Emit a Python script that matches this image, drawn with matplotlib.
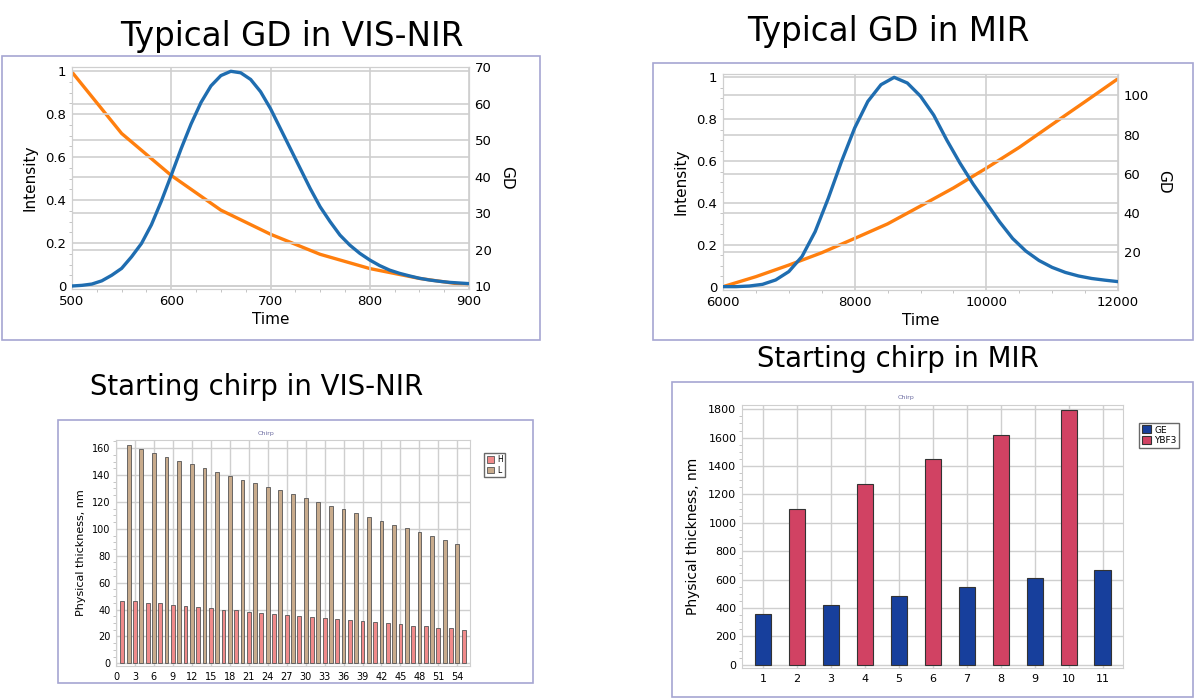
import matplotlib
matplotlib.use("Agg")
import matplotlib.pyplot as plt
import matplotlib.ticker as ticker
from matplotlib.patches import Rectangle

# ---- data ----
vis_time = [500, 510, 520, 530, 540, 550, 560, 570, 580, 590, 600, 610, 620, 630, 640,
            650, 660, 670, 680, 690, 700, 710, 720, 730, 740, 750, 760, 770, 780, 790,
            800, 810, 820, 830, 840, 850, 860, 870, 880, 890, 900]
vis_intensity = [0.0, 0.003, 0.009, 0.024, 0.05, 0.082, 0.136, 0.198, 0.285, 0.395, 0.516,
                 0.64, 0.755, 0.855, 0.932, 0.98, 1.0, 0.993, 0.962, 0.905, 0.826, 0.733,
                 0.64, 0.547, 0.454, 0.369, 0.30, 0.237, 0.19, 0.152, 0.121, 0.095, 0.074,
                 0.059, 0.047, 0.036, 0.028, 0.022, 0.017, 0.014, 0.011]
vis_gd_time = [500, 550, 600, 650, 700, 750, 800, 850, 900]
vis_gd = [68.6, 51.8, 40.3, 30.8, 24.2, 18.7, 14.8, 12.1, 10.2]

mir_time = [6000, 6200, 6400, 6600, 6800, 7000, 7200, 7400, 7600, 7800, 8000, 8200, 8400,
            8600, 8800, 9000, 9200, 9400, 9600, 9800, 10000, 10200, 10400, 10600, 10800,
            11000, 11200, 11400, 11600, 11800, 12000]
mir_intensity = [0.0, 0.0, 0.003, 0.011, 0.032, 0.072, 0.144, 0.263, 0.423, 0.598, 0.758,
                 0.885, 0.965, 1.0, 0.973, 0.91, 0.82, 0.70, 0.59, 0.49, 0.40, 0.31, 0.23,
                 0.17, 0.125, 0.092, 0.068, 0.051, 0.039, 0.031, 0.024]
mir_gd_time = [6000, 6500, 7000, 7500, 8000, 8500, 9000, 9500, 10000, 10500, 11000, 11500, 12000]
mir_gd = [2.5, 7.6, 13.5, 19.8, 27.1, 34.5, 43.6, 52.8, 62.9, 73.5, 85.2, 96.8, 108.5]

vis_h_layers = list(range(1, 56, 2))
vis_h = [46.5, 46, 45, 44.5, 43.5, 42.5, 42, 41, 40, 39.5, 38.5, 37.5, 37, 36, 35.5, 34.5,
         33.5, 33, 32, 31.5, 30.5, 30, 29, 28, 27.5, 26.5, 26, 25]
vis_l_layers = list(range(2, 55, 2))
vis_l = [162, 159, 156, 153.5, 150.5, 148, 145, 142, 139.5, 136.5, 134, 131, 128.5, 125.5,
         123, 120, 117, 114.5, 111.5, 108.5, 106, 103, 100.5, 97.5, 95, 92, 89]

mir_ge_layers = [1, 3, 5, 7, 9, 11]
mir_ge = [360, 420, 485, 545, 610, 670]
mir_ybf3_layers = [2, 4, 6, 8, 10]
mir_ybf3 = [1100, 1275, 1450, 1620, 1795]

W, H = 1195, 698
BLUE = "#1f6db0"
ORANGE = "#ff7f0e"
GRID = "#cfcfcf"
FRAME = "#a6a6d2"

fig = plt.figure(figsize=(W / 100, H / 100), dpi=100)


def px_axes(x0, y0, x1, y1):
    return fig.add_axes([x0 / W, 1 - y1 / H, (x1 - x0) / W, (y1 - y0) / H])


def frame(x0, y0, x1, y1):
    fig.patches.append(Rectangle((x0 / W, 1 - y1 / H), (x1 - x0) / W, (y1 - y0) / H,
                                 transform=fig.transFigure, fill=False,
                                 edgecolor=FRAME, linewidth=1.2))


def title(x, y, s, fs):
    fig.text(x / W, 1 - y / H, s, fontsize=fs, ha="center", va="baseline")


def style(ax, fs):
    for s in ax.spines.values():
        s.set_color(GRID)
    ax.tick_params(which="major", length=0, labelsize=fs, pad=4)
    ax.tick_params(which="minor", length=2, color="#bbbbbb")
    ax.set_axisbelow(True)


def gd_panel(rect, t, inten, gt, gd, xlim, xticks, ylim_l, ylim_r, rticks, xminor):
    ax = px_axes(*rect)
    ax.plot(t, inten, color=BLUE, lw=2.4, zorder=3, solid_joinstyle="round")
    ax.set_xlim(*xlim)
    ax.set_ylim(*ylim_l)
    ax.set_xticks(xticks)
    ax.set_yticks([0, 0.2, 0.4, 0.6, 0.8, 1])
    ax.yaxis.set_major_formatter(ticker.FuncFormatter(lambda v, p: f"{v:g}"))
    ax.xaxis.set_minor_locator(ticker.MultipleLocator(xminor))
    ax.yaxis.set_minor_locator(ticker.MultipleLocator(0.05))
    ax.grid(True, which="major", color=GRID, lw=1.2)
    ax.set_xlabel("Time", fontsize=11, labelpad=3)
    ax.set_ylabel("Intensity", fontsize=11, labelpad=6)
    style(ax, 9.5)
    ax2 = ax.twinx()
    ax2.plot(gt, gd, color=ORANGE, lw=2.4, zorder=3, solid_joinstyle="round")
    ax2.set_ylim(*ylim_r)
    ax2.set_yticks(rticks)
    ax2.yaxis.set_minor_locator(ticker.MultipleLocator(rticks[1] - rticks[0]))
    ax2.grid(True, which="major", color=GRID, lw=1.2)
    ax2.set_ylabel("GD", fontsize=11, rotation=270, labelpad=16)
    style(ax2, 9.5)
    ax.set_zorder(ax2.get_zorder() + 1)
    ax.patch.set_visible(False)
    return ax, ax2


# ---- top-left: GD in VIS-NIR ----
frame(2, 56, 540, 340)
title(292, 46, "Typical GD in VIS-NIR", 23.5)
gd_panel((72, 67, 469, 289), vis_time, vis_intensity, vis_gd_time, vis_gd,
         (500, 900), [500, 600, 700, 800, 900], (-0.014, 1.02), (9.2, 70),
         [10, 20, 30, 40, 50, 60, 70], 25)

# ---- top-right: GD in MIR ----
frame(653, 63, 1193, 340)
title(888, 41, "Typical GD in MIR", 23.5)
gd_panel((723, 74, 1118, 290), mir_time, mir_intensity, mir_gd_time, mir_gd,
         (6000, 12000), [6000, 8000, 10000, 12000], (-0.016, 1.016), (0.8, 110.9),
         [20, 40, 60, 80, 100], 500)

# ---- bottom-left: starting chirp VIS-NIR ----
frame(58, 420, 533, 683)
title(257, 395, "Starting chirp in VIS-NIR", 19.8)
fig.text(266 / W, 1 - 434 / H, "Chirp", fontsize=4.5, color="#6a6aa0", ha="center", va="center")
ax3 = px_axes(116, 440, 470, 666)
ax3.bar(vis_h_layers, vis_h, width=0.6, color="#f08a8a", edgecolor="#555555", lw=0.6,
        label="H", zorder=3)
ax3.bar(vis_l_layers, vis_l, width=0.6, color="#c8ab8c", edgecolor="#555555", lw=0.6,
        label="L", zorder=3)
ax3.set_xlim(0, 56)
ax3.set_ylim(-2, 166)
ax3.set_xticks(range(0, 55, 3))
ax3.set_yticks(range(0, 161, 20))
ax3.yaxis.set_minor_locator(ticker.MultipleLocator(5))
ax3.grid(True, which="major", color=GRID, lw=1.0)
ax3.set_ylabel("Physical thickness, nm", fontsize=8, labelpad=4)
style(ax3, 7)
ax3.legend(loc="upper left", bbox_to_anchor=(1.03, 0.96), fontsize=5.5, frameon=True,
           fancybox=False, edgecolor="#444444", handlelength=1.0, handleheight=1.0,
           handletextpad=0.4, borderpad=0.3, labelspacing=0.2)

# ---- bottom-right: starting chirp MIR ----
frame(672, 382, 1193, 697)
title(898, 367, "Starting chirp in MIR", 19.8)
fig.text(906 / W, 1 - 398 / H, "Chirp", fontsize=4.5, color="#6a6aa0", ha="center", va="center")
ax4 = px_axes(742, 405, 1123, 668)
ax4.bar(mir_ge_layers, mir_ge, width=0.48, color="#173f9c", edgecolor="#333333", lw=0.8,
        label="GE", zorder=3)
ax4.bar(mir_ybf3_layers, mir_ybf3, width=0.48, color="#d14263", edgecolor="#333333", lw=0.8,
        label="YBF3", zorder=3)
ax4.set_xlim(0.38, 11.6)
ax4.set_ylim(-22, 1830)
ax4.set_xticks(range(1, 12))
ax4.set_yticks(range(0, 1801, 200))
ax4.yaxis.set_minor_locator(ticker.MultipleLocator(50))
ax4.grid(True, which="major", color=GRID, lw=1.0)
ax4.set_ylabel("Physical thickness, nm", fontsize=10, labelpad=6)
style(ax4, 8)
ax4.legend(loc="upper left", bbox_to_anchor=(1.03, 0.95), fontsize=6.5, frameon=True,
           fancybox=False, edgecolor="#444444", handlelength=1.0, handleheight=1.0,
           handletextpad=0.4, borderpad=0.3, labelspacing=0.2)

fig.savefig("out.png", dpi=100)
